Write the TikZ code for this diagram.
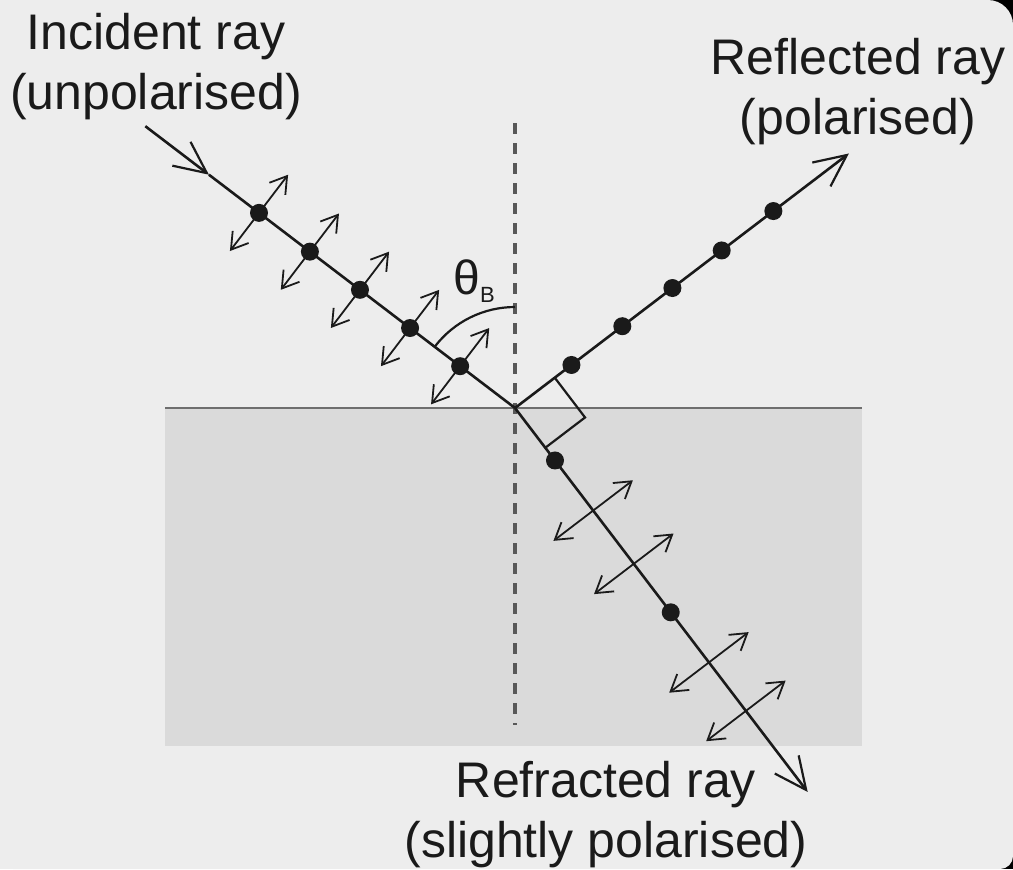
\documentclass[tikz,border=0pt]{standalone}
\usepackage{fontspec}
\setmainfont{Liberation Sans}
\usetikzlibrary{arrows.meta,calc}
\definecolor{bggray}{HTML}{EDEDED}
\definecolor{glassgray}{HTML}{DADADA}
\definecolor{surfgray}{HTML}{6E6E6E}
\definecolor{dashgray}{HTML}{585858}
\definecolor{inkdark}{HTML}{1A1A1A}
\tikzset{
  rayline/.style = {line width=1.3pt, inkdark},
  ray/.style     = {rayline, -{Straight Barb[length=16pt,width=15pt,line width=1.1pt]}},
  polarr/.style  = {line width=0.9pt, inkdark,
                    {Straight Barb[length=8pt,width=10pt]}-{Straight Barb[length=8pt,width=10pt]}},
  pdot/.style    = {circle, fill=inkdark, inner sep=0pt, minimum size=9pt},
  normline/.style = {line width=1.6pt, dash pattern=on 5.5pt off 4.5pt, dashgray},
  lbl/.style     = {font=\fontsize{25}{30}\selectfont, align=center, text=inkdark},
}

\begin{document}
\begin{tikzpicture}[x=0.5pt,y=-0.5pt]
% frame with dark corners
\fill[black] (0,0) rectangle (1013,869);
\fill[bggray, rounded corners=12.5pt] (0,0) rectangle (1013,500);
\fill[bggray, rounded corners=6.5pt] (0,300) rectangle (1013,869);
\fill[bggray] (0,0) rectangle (200,869);
\useasboundingbox (0,0) rectangle (1013,869);

% glass block and normal
\fill[glassgray] (165,408) rectangle (862,746);
\coordinate (sL) at (165,408);
\coordinate (sR) at (862,408);
\draw[surfgray, line width=1pt] (sL) -- (sR);
\coordinate (O) at (515,408);
\coordinate (nTop) at (515,123);
\coordinate (nBot) at (515,725);
\draw[normline] (nTop) -- (nBot);

% rays
\coordinate (incS) at ($(O)+(-0.795*465,-0.606*465)$);
\coordinate (incM) at ($(O)+(-0.795*385,-0.606*385)$);
\coordinate (reflE) at ($(O)+(0.795*420,-0.606*420)$);
\coordinate (refrE) at ($(O)+(0.606*483,0.795*483)$);
\draw[ray] (incS) -- (incM);
\draw[rayline] (incM) -- (O);
\draw[ray] (O) -- (reflE);
\draw[ray] (O) -- (refrE);

% incident: dots and in-plane vibrations
\foreach \t [count=\i] in {69,132,195,258,322} {
  \node[pdot] (inc\i) at ($(O)+(-0.795*\t,-0.606*\t)$) {};
  \draw[polarr] ($(inc\i)+(-0.606*48,0.795*48)$) -- ($(inc\i)+(0.606*48,-0.795*48)$);
}
% reflected: dots only
\foreach \t [count=\i] in {71,135,198,260,325}
  \node[pdot] (refl\i) at ($(O)+(0.795*\t,-0.606*\t)$) {};
% refracted: two dots, four vibrations
\foreach \t [count=\i] in {66,257}
  \node[pdot] (refr\i) at ($(O)+(0.606*\t,0.795*\t)$) {};
\foreach \t [count=\i] in {129,196,320,381} {
  \coordinate (vib\i) at ($(O)+(0.606*\t,0.795*\t)$);
  \draw[polarr] ($(vib\i)+(-0.795*50,0.606*50)$) -- ($(vib\i)+(0.795*50,-0.606*50)$);
}

% right angle and Brewster angle
\coordinate (raA) at ($(O)+(0.795*50,-0.606*50)$);
\coordinate (raB) at ($(O)+(0.606*50,0.795*50)$);
\coordinate (raC) at ($(raA)+(0.606*50,0.795*50)$);
\draw[inkdark, line width=1.1pt] (raA) -- (raC) -- (raB);
\draw[inkdark, line width=1.1pt] ($(O)+(0,-101)$) arc[start angle=-90, end angle=-142.7, radius=101];
\node[text=inkdark, font=\fontsize{24}{24}\selectfont, inner sep=0pt] (thetaB) at (474,281)
  {θ\raisebox{-4pt}{\fontsize{11}{11}\selectfont B}};

% labels
\node[lbl] (incLbl)  at (156,67)  {Incident ray\\(unpolarised)};
\node[lbl] (reflLbl) at (858,92)  {Reflected ray\\(polarised)};
\node[lbl] (refrLbl) at (606,815) {Refracted ray\\(slightly polarised)};
\end{tikzpicture}
\end{document}
